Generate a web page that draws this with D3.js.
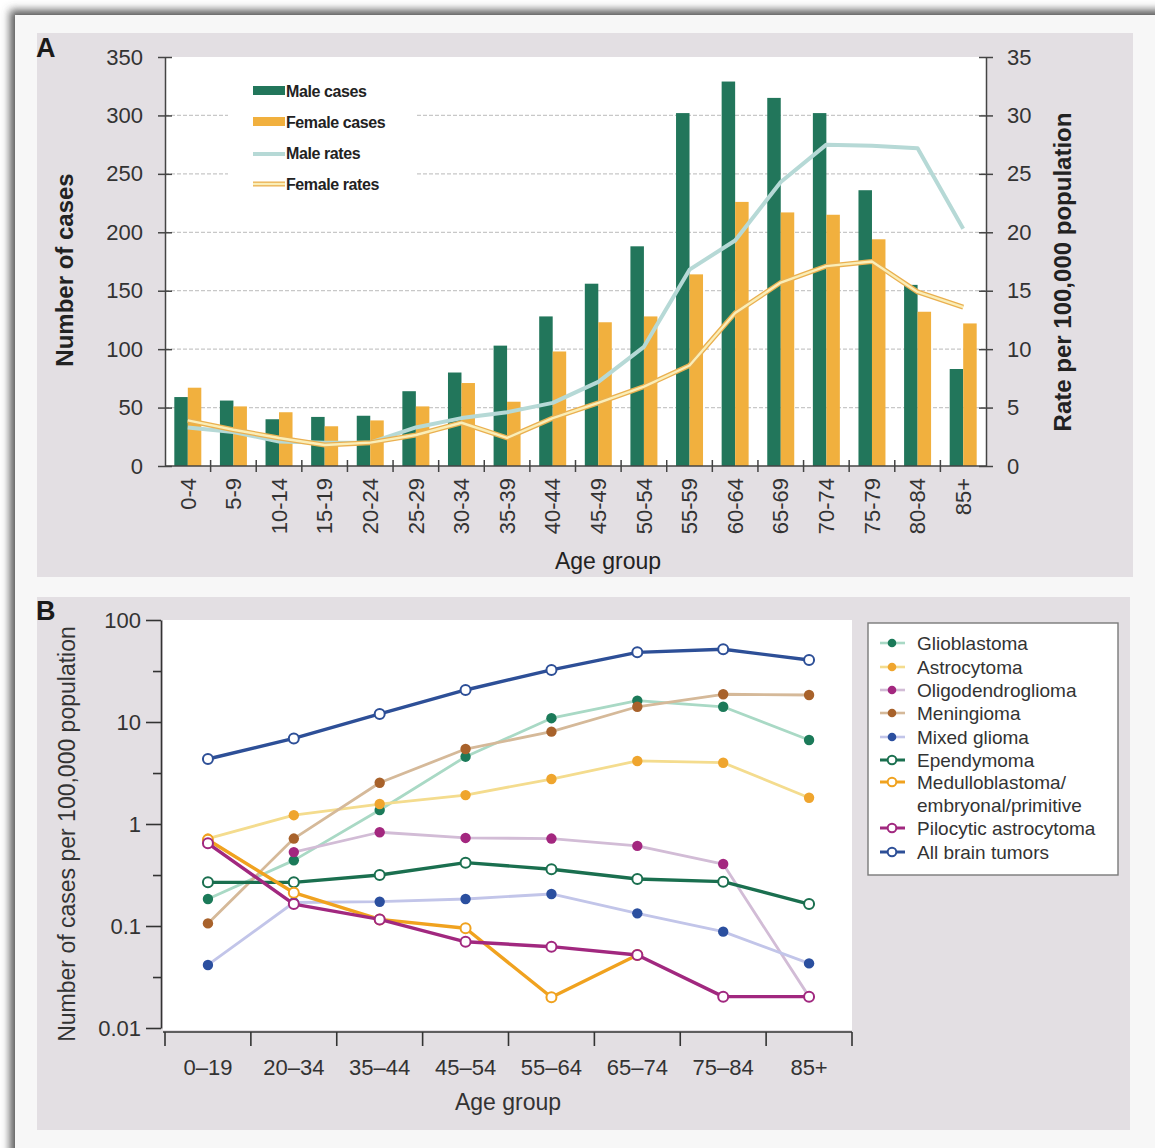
<!DOCTYPE html>
<html>
<head>
<meta charset="utf-8">
<script src="https://cdn.jsdelivr.net/npm/d3@7"></script>
<style>
  body { margin: 0; background: #fff; }
  svg { display: block; font-family: "Liberation Sans", Arial, sans-serif; }
  .tick text { fill: #333; }
</style>
</head>
<body>
<div id="chart"></div>
<script>
// DATA - panel A
const ageGroupsA = ["0-4", "5-9", "10-14", "15-19", "20-24", "25-29", "30-34", "35-39", "40-44",
                    "45-49", "50-54", "55-59", "60-64", "65-69", "70-74", "75-79", "80-84", "85+"];
const maleCases   = [59, 56, 40, 42, 43, 64, 80, 103, 128, 156, 188, 302, 329, 315, 302, 236, 155, 83];
const femaleCases = [67, 51, 46, 34, 39, 51, 71, 55, 98, 123, 128, 164, 226, 217, 215, 194, 132, 122];
const maleRates   = [3.3, 2.9, 2.1, 2.0, 2.0, 3.3, 4.1, 4.6, 5.4, 7.2, 10.2, 16.8, 19.3, 24.3, 27.5, 27.4, 27.2, 20.3];
const femaleRates = [3.9, 3.1, 2.4, 1.8, 2.0, 2.65, 3.7, 2.4, 4.1, 5.4, 6.8, 8.6, 13.1, 15.7, 17.1, 17.5, 14.9, 13.6];
const casesTicks = [0, 50, 100, 150, 200, 250, 300, 350];
const rateTicks  = [0, 5, 10, 15, 20, 25, 30, 35];

// DATA - panel B (null = no value shown)
const ageGroupsB = ["0\u201319", "20\u201334", "35\u201344", "45\u201354", "55\u201364", "65\u201374", "75\u201384", "85+"];
const glioblastoma      = [0.184, 0.44, 1.37, 4.57, 10.9, 16.2, 14.1, 6.66];
const astrocytoma       = [0.72, 1.22, 1.57, 1.92, 2.76, 4.15, 3.99, 1.81];
const oligodendroglioma = [null, 0.53, 0.83, 0.73, 0.72, 0.61, 0.405, 0.0203];
const meningioma        = [0.106, 0.72, 2.54, 5.43, 8.04, 14.1, 18.7, 18.4];
const mixedGlioma       = [0.0415, 0.17, 0.173, 0.184, 0.206, 0.133, 0.088, 0.043];
const ependymoma        = [0.268, 0.268, 0.316, 0.418, 0.36, 0.289, 0.272, 0.164];
const medulloblastoma   = [0.70, 0.212, 0.116, 0.095, 0.02, 0.052, null, null];
const pilocytic         = [0.646, 0.164, 0.116, 0.070, 0.0627, 0.052, 0.0203, 0.0203];
const allTumors         = [4.34, 6.9, 12.0, 20.6, 32.4, 48.2, 51.6, 40.5];
const logTicks = [0.01, 0.1, 1, 10, 100];
const logMinorTicks = [0.0316, 0.316, 3.16, 31.6];

// 1: SVG + FRAME
const W = 1155, H = 1148;
const svg = d3.select("#chart").append("svg").attr("width", W).attr("height", H);

const defs = svg.append("defs");
defs.append("filter").attr("id", "shadow").attr("x", "-5%").attr("y", "-5%").attr("width", "110%").attr("height", "110%")
  .append("feGaussianBlur").attr("stdDeviation", 4);

svg.append("rect").attr("x", 10).attr("y", 10).attr("width", 1250).attr("height", 1250)
  .attr("fill", "#5a5a5a").attr("filter", "url(#shadow)");
svg.append("rect").attr("x", 15).attr("y", 15).attr("width", 1200).attr("height", 1200).attr("fill", "#f7f7f7");

// panel backgrounds
svg.append("rect").attr("x", 37).attr("y", 33).attr("width", 1096).attr("height", 544).attr("fill", "#e3dfe3");
svg.append("rect").attr("x", 37).attr("y", 597).attr("width", 1093).attr("height", 533).attr("fill", "#e3dfe3");

// 2: PANEL A
const a = { left: 165, right: 986, top: 57, bottom: 466 };
const gA = svg.append("g");

gA.append("rect").attr("x", a.left).attr("y", a.top)
  .attr("width", a.right - a.left).attr("height", a.bottom - a.top).attr("fill", "#fff");

let xA = d3.scaleBand().domain(ageGroupsA).range([a.left, a.right]);
let xSub = d3.scaleBand().domain(["male", "female"]).range([0, xA.bandwidth()]).paddingOuter(0.69);
let yCases = d3.scaleLinear().domain([0, 350]).range([a.bottom, a.top]);
let yRate = d3.scaleLinear().domain([0, 35]).range([a.bottom, a.top]);

// dashed gridlines
gA.selectAll(".grid")
  .data(casesTicks.filter(d => d > 0 && d < 350))
  .enter().append("line")
  .attr("x1", a.left).attr("x2", a.right)
  .attr("y1", d => yCases(d)).attr("y2", d => yCases(d))
  .attr("stroke", "#c8c8c8").attr("stroke-width", 1.2).attr("stroke-dasharray", "4,2");

// legend box hides the grid
gA.append("rect").attr("x", 228).attr("y", 68).attr("width", 188).attr("height", 136).attr("fill", "#fff");

// bars
const barData = ageGroupsA.map((g, i) => ({ g, male: maleCases[i], female: femaleCases[i] }));
const groups = gA.selectAll(".grp").data(barData).enter().append("g")
  .attr("transform", d => `translate(${xA(d.g)},0)`);
groups.append("rect")
  .attr("x", xSub("male")).attr("width", xSub.bandwidth())
  .attr("y", d => yCases(d.male)).attr("height", d => yCases(0) - yCases(d.male))
  .attr("fill", "#22765b");
groups.append("rect")
  .attr("x", xSub("female")).attr("width", xSub.bandwidth())
  .attr("y", d => yCases(d.female)).attr("height", d => yCases(0) - yCases(d.female))
  .attr("fill", "#f1b03e");

// rate lines
const rateLine = d3.line()
  .x((d, i) => xA(ageGroupsA[i]) + xA.bandwidth() / 2)
  .y(d => yRate(d));

gA.append("path").attr("d", rateLine(maleRates))
  .attr("fill", "none").attr("stroke", "#b6d9d6").attr("stroke-width", 4).attr("stroke-linejoin", "round");
gA.append("path").attr("d", rateLine(femaleRates))
  .attr("fill", "none").attr("stroke", "#eab050").attr("stroke-width", 5).attr("stroke-linejoin", "round");
gA.append("path").attr("d", rateLine(femaleRates))
  .attr("fill", "none").attr("stroke", "#faeeb8").attr("stroke-width", 2.4).attr("stroke-linejoin", "round");

// axes
const axisA = gA.append("g").attr("transform", `translate(${a.left},0)`)
  .call(d3.axisLeft(yCases).tickValues(casesTicks).tickSize(7).tickSizeOuter(0));
axisA.selectAll(".tick line").attr("x1", 7);
axisA.selectAll("text").attr("x", -22).style("font-size", "22px");

const axisAR = gA.append("g").attr("transform", `translate(${a.right},0)`)
  .call(d3.axisRight(yRate).tickValues(rateTicks).tickSize(7).tickSizeOuter(0));
axisAR.selectAll(".tick line").attr("x1", -7);
axisAR.selectAll("text").attr("x", 21).style("font-size", "22px");

[axisA, axisAR].forEach(ax => {
  ax.select(".domain").attr("stroke", "#444").attr("stroke-width", 1.5);
  ax.selectAll(".tick line").attr("stroke", "#444").attr("stroke-width", 1.5);
});

// bottom axis with ticks between groups
gA.append("line").attr("x1", a.left).attr("x2", a.right).attr("y1", a.bottom).attr("y2", a.bottom)
  .attr("stroke", "#444").attr("stroke-width", 1.5);
gA.selectAll(".xtick").data(ageGroupsA.slice(1)).enter().append("line")
  .attr("x1", d => xA(d)).attr("x2", d => xA(d))
  .attr("y1", a.bottom - 6).attr("y2", a.bottom + 6)
  .attr("stroke", "#444").attr("stroke-width", 1.5);
gA.selectAll(".xlab").data(ageGroupsA).enter().append("text")
  .attr("transform", d => `translate(${xA(d) + xA.bandwidth() / 2},${a.bottom + 12}) rotate(-90)`)
  .attr("text-anchor", "end").attr("dy", "0.35em")
  .style("font-size", "22px").attr("fill", "#333")
  .text(d => d);

// labels
svg.append("text").attr("x", 36).attr("y", 57).style("font-size", "27px").style("font-weight", "bold")
  .attr("fill", "#1a1a1a").text("A");
gA.append("text").attr("transform", `translate(73,270) rotate(-90)`).attr("text-anchor", "middle")
  .style("font-size", "24px").style("font-weight", "bold").attr("fill", "#222").text("Number of cases");
gA.append("text").attr("transform", `translate(1071,272) rotate(-90)`).attr("text-anchor", "middle")
  .style("font-size", "24px").style("font-weight", "bold").attr("fill", "#222").text("Rate per 100,000 population");
gA.append("text").attr("x", 608).attr("y", 569).attr("text-anchor", "middle")
  .style("font-size", "23px").attr("fill", "#222").text("Age group");

// legend A
const legA = gA.append("g").attr("transform", "translate(253,0)");
const legItemsA = ["Male cases", "Female cases", "Male rates", "Female rates"];
legA.append("rect").attr("x", 0).attr("y", 86).attr("width", 32).attr("height", 9).attr("fill", "#22765b");
legA.append("rect").attr("x", 0).attr("y", 117).attr("width", 32).attr("height", 9).attr("fill", "#f1b03e");
legA.append("line").attr("x1", 0).attr("x2", 32).attr("y1", 154).attr("y2", 154)
  .attr("stroke", "#b6d9d6").attr("stroke-width", 4);
legA.append("line").attr("x1", 0).attr("x2", 32).attr("y1", 184).attr("y2", 184)
  .attr("stroke", "#eab050").attr("stroke-width", 5);
legA.append("line").attr("x1", 0).attr("x2", 32).attr("y1", 184).attr("y2", 184)
  .attr("stroke", "#faeeb8").attr("stroke-width", 2.4);
legA.selectAll(".lt").data(legItemsA).enter().append("text")
  .attr("x", 33).attr("y", (d, i) => 91 + i * 31).attr("dy", "0.35em")
  .style("font-size", "16px").style("font-weight", "bold").style("letter-spacing", "-0.4px")
  .attr("fill", "#222").text(d => d);

// 3: PANEL B
const b = { left: 163, right: 852, top: 620, bottom: 1030 };
const gB = svg.append("g");
gB.append("rect").attr("x", b.left).attr("y", b.top)
  .attr("width", b.right - b.left).attr("height", b.bottom - b.top).attr("fill", "#fff");

let xB = d3.scaleBand().domain(ageGroupsB).range([165, 852]);
let yB = d3.scaleLog().domain([0.01, 100]).range([1028, 620]);

const series = [
  { name: "Glioblastoma",      values: glioblastoma,      line: "#a9d9c5", dot: "#1b7a59", open: false },
  { name: "Astrocytoma",       values: astrocytoma,       line: "#f4dc8e", dot: "#efa52e", open: false },
  { name: "Oligodendroglioma", values: oligodendroglioma, line: "#d2bcd6", dot: "#a3277f", open: false },
  { name: "Meningioma",        values: meningioma,        line: "#d5b999", dot: "#a8622b", open: false },
  { name: "Mixed glioma",      values: mixedGlioma,       line: "#c2c5e9", dot: "#2b4f9f", open: false },
  { name: "Ependymoma",        values: ependymoma,        line: "#1a6f4f", dot: "#1a6f4f", open: true },
  { name: "Medulloblastoma/\nembryonal/primitive", values: medulloblastoma, line: "#f0a21f", dot: "#f0a21f", open: true },
  { name: "Pilocytic astrocytoma", values: pilocytic,     line: "#a1287f", dot: "#a1287f", open: true },
  { name: "All brain tumors",  values: allTumors,         line: "#2d4f97", dot: "#2d4f97", open: true }
];

const lineB = d3.line()
  .defined(d => d != null)
  .x((d, i) => xB(ageGroupsB[i]) + xB.bandwidth() / 2)
  .y(d => yB(d));

series.forEach(s => {
  const gs = gB.append("g");
  gs.append("path").attr("d", lineB(s.values))
    .attr("fill", "none").attr("stroke", s.line)
    .attr("stroke-width", s.open ? 3.4 : 2.8).attr("stroke-linejoin", "round");
  gs.selectAll("circle")
    .data(s.values.map((v, i) => ({ v, g: ageGroupsB[i] })).filter(d => d.v != null))
    .enter().append("circle")
    .attr("cx", d => xB(d.g) + xB.bandwidth() / 2)
    .attr("cy", d => yB(d.v))
    .attr("r", s.open ? 5 : 5.2)
    .attr("fill", s.open ? "#fff" : s.dot)
    .attr("stroke", s.open ? s.dot : "none")
    .attr("stroke-width", 2);
});

// y axis (log)
const axisB = gB.append("g").attr("transform", "translate(161,0)")
  .call(d3.axisLeft(yB).tickValues(logTicks).tickFormat(d3.format("~g")).tickSize(15).tickSizeOuter(0));
axisB.selectAll("text").attr("x", -20).style("font-size", "22px");
const minorB = gB.append("g").attr("transform", "translate(161,0)")
  .call(d3.axisLeft(yB).tickValues(logMinorTicks).tickFormat("").tickSize(8).tickSizeOuter(0));
minorB.select(".domain").remove();
[axisB, minorB].forEach(ax => {
  ax.selectAll(".domain").attr("stroke", "#333").attr("stroke-width", 1.6);
  ax.selectAll(".tick line").attr("stroke", "#333").attr("stroke-width", 1.6);
});

// x axis
gB.append("line").attr("x1", 163).attr("x2", 852).attr("y1", 1032).attr("y2", 1032)
  .attr("stroke", "#333").attr("stroke-width", 1.6);
gB.selectAll(".xtb").data(ageGroupsB.map(d => xB(d)).concat([xB.range()[1]])).enter().append("line")
  .attr("x1", d => d).attr("x2", d => d).attr("y1", 1032).attr("y2", 1046)
  .attr("stroke", "#333").attr("stroke-width", 1.6);
gB.selectAll(".xlb").data(ageGroupsB).enter().append("text")
  .attr("x", d => xB(d) + xB.bandwidth() / 2).attr("y", 1075)
  .attr("text-anchor", "middle").style("font-size", "22px").attr("fill", "#333")
  .text(d => d);

svg.append("text").attr("x", 36).attr("y", 620).style("font-size", "27px").style("font-weight", "bold")
  .attr("fill", "#1a1a1a").text("B");
gB.append("text").attr("transform", "translate(75,834) rotate(-90)").attr("text-anchor", "middle")
  .style("font-size", "23px").attr("fill", "#333").text("Number of cases per 100,000 population");
gB.append("text").attr("x", 508).attr("y", 1110).attr("text-anchor", "middle")
  .style("font-size", "23px").attr("fill", "#333").text("Age group");

// legend B
const legB = gB.append("g");
legB.append("rect").attr("x", 868).attr("y", 623).attr("width", 250).attr("height", 252)
  .attr("fill", "#fff").attr("stroke", "#7a7a7a").attr("stroke-width", 1.4);
const rowY = [643, 667, 690, 713, 737, 760, 782, 828, 852];
series.forEach((s, i) => {
  const y = rowY[i];
  legB.append("line").attr("x1", 880).attr("x2", 905).attr("y1", y).attr("y2", y)
    .attr("stroke", s.line).attr("stroke-width", s.open ? 3 : 2.6);
  legB.append("circle").attr("cx", 892).attr("cy", y).attr("r", 4.3)
    .attr("fill", s.open ? "#fff" : s.dot).attr("stroke", s.open ? s.dot : "none").attr("stroke-width", 2);
  s.name.split("\n").forEach((t, k) => {
    legB.append("text").attr("x", 917).attr("y", y + k * 23).attr("dy", "0.35em")
      .style("font-size", "19px").attr("fill", "#333").text(t);
  });
});
</script>
</body>
</html>
